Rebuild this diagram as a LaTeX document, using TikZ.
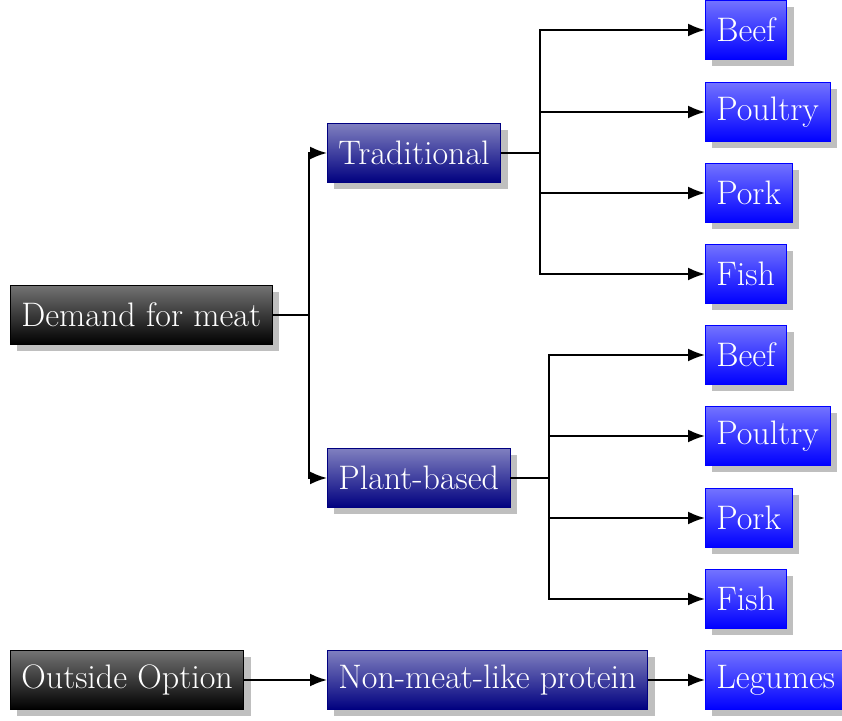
\documentclass[tikz,border=0pt]{standalone}
\usepackage{tikz}
\usetikzlibrary{arrows.meta,positioning,shadows}

\begin{document}
\begin{tikzpicture}[
 font=\fontsize{17}{20}\selectfont,>=Latex,
 box/.style={rectangle,text=white,inner xsep=5.5pt,minimum height=29.5pt,
  anchor=west,drop shadow={fill=black!25,opacity=1,shadow xshift=3.5pt,shadow yshift=-3.5pt}},
 rootbox/.style={box,draw=black,top color=black!55,bottom color=black},
 midbox/.style={box,draw=blue!50!black,top color=blue!50!black!50,bottom color=blue!50!black},
 leafbox/.style={box,draw=blue,top color=blue!55!white,bottom color=blue},
 link/.style={-{Latex[length=8.5pt,width=6.5pt]},line width=1pt}]
\useasboundingbox (0,0) rectangle (421pt,-360.5pt);
% first level
\node[rootbox] (demand) at (5pt,-157.5pt) {Demand for meat};
\node[rootbox] (outside) at (5pt,-340pt) {Outside Option};
% second level
\node[midbox] (trad) at (163.5pt,-76.5pt) {Traditional};
\node[midbox] (plant) at (163.5pt,-239pt) {Plant-based};
\node[midbox] (nonmeat) at (163.5pt,-340pt) {Non-meat-like protein};
% leaves
\node[leafbox] (beefA) at (352.5pt,-15pt) {Beef};
\node[leafbox] (poultryA) at (352.5pt,-56pt) {Poultry};
\node[leafbox] (porkA) at (352.5pt,-96.5pt) {Pork};
\node[leafbox] (fishA) at (352.5pt,-137pt) {Fish};
\node[leafbox] (beefB) at (352.5pt,-177.5pt) {Beef};
\node[leafbox] (poultryB) at (352.5pt,-218pt) {Poultry};
\node[leafbox] (porkB) at (352.5pt,-259pt) {Pork};
\node[leafbox] (fishB) at (352.5pt,-299.5pt) {Fish};
\node[leafbox] (legumes) at (352.5pt,-340pt) {Legumes};
% connectors
\draw[link] (demand.east) -- ++(18pt,0) |- (trad.west);
\draw[link] (demand.east) -- ++(18pt,0) |- (plant.west);
\foreach \leaf in {beefA,poultryA,porkA,fishA}
 \draw[link] (trad.east) -- ++(19.5pt,0) |- (\leaf.west);
\foreach \leaf in {beefB,poultryB,porkB,fishB}
 \draw[link] (plant.east) -- ++(19.5pt,0) |- (\leaf.west);
\draw[link] (outside) -- (nonmeat);
\draw[link] (nonmeat) -- (legumes);
\end{tikzpicture}
\end{document}
